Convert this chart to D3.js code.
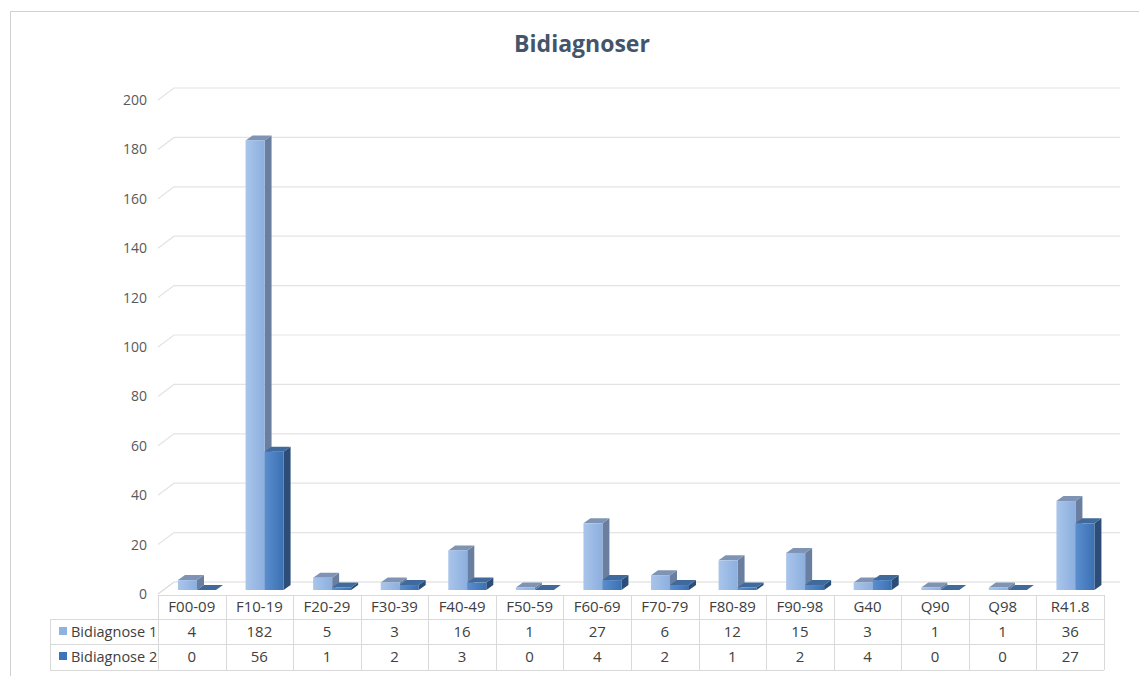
<!DOCTYPE html>
<html lang="en">
<head>
<meta charset="UTF-8"/>
<title>Bidiagnoser</title>
<script src="https://d3js.org/d3.v7.min.js"></script>
<style>
	body { margin: 0; background: #fff; }
	svg { display: block; font-family: "Open Sans", "Noto Sans", sans-serif; }
</style>
</head>
<body>
<div id="chart"></div>
<script>
var categories = ["F00-09", "F10-19", "F20-29", "F30-39", "F40-49", "F50-59", "F60-69",
	"F70-79", "F80-89", "F90-98", "G40", "Q90", "Q98", "R41.8"];
var seriesNames = ["Bidiagnose 1", "Bidiagnose 2"];
var bidiagnose1 = [4, 182, 5, 3, 16, 1, 27, 6, 12, 15, 3, 1, 1, 36];
var bidiagnose2 = [0, 56, 1, 2, 3, 0, 4, 2, 1, 2, 4, 0, 0, 27];
var yTicks = [0, 20, 40, 60, 80, 100, 120, 140, 160, 180, 200];

var w = 1139, h = 676;
var left = 158, right = 1104;
var depthX = 16, depthY = 12;   // wall depth
var barDX = 7, barDY = 5;       // bar depth

var svg = d3.select("#chart").append("svg")
	.attr("width", w)
	.attr("height", h);

// outer frame
svg.append("path")
	.attr("d", "M10.5," + h + "V11.5H" + w)
	.attr("fill", "none")
	.attr("stroke", "#d0d0d0");

var x = d3.scaleBand()
	.domain(d3.range(categories.length))
	.range([left, right]);

var y = d3.scaleLinear()
	.domain([0, 200])
	.range([594, 100]);

// gradients
var defs = svg.append("defs");
function grad(id, c1, c2) {
	var g = defs.append("linearGradient").attr("id", id)
		.attr("x1", "0%").attr("x2", "100%").attr("y1", "0%").attr("y2", "0%");
	g.append("stop").attr("offset", "0%").attr("stop-color", c1);
	g.append("stop").attr("offset", "100%").attr("stop-color", c2);
}
grad("g1", "#a9c5ea", "#8cafdf");
grad("g2", "#5a8ecf", "#3b70b2");

var faces = [
	{ front: "url(#g1)", top: "#7f94b5", side: "#6a7fa0" },
	{ front: "url(#g2)", top: "#3f6a9b", side: "#2b4d77" }
];

// gridlines (slanted on the left wall, flat on the back wall)
var grid = svg.append("g");
grid.selectAll("path")
	.data(yTicks)
	.enter()
	.append("path")
	.attr("d", function (d) {
		var yf = y(d);
		return "M" + left + "," + yf + "L" + (left + depthX) + "," + (yf - depthY) + "H1120";
	})
	.attr("fill", "none")
	.attr("stroke", function (d) { return d === 0 ? "#d9d9d9" : "#e3e3e3"; })
	.attr("stroke-width", 1.2);

// y labels
svg.append("g").selectAll("text")
	.data(yTicks)
	.enter()
	.append("text")
	.attr("x", 147)
	.attr("y", function (d) { return y(d) + 5; })
	.attr("text-anchor", "end")
	.attr("font-size", "14px")
	.attr("fill", "#595959")
	.text(function (d) { return d; });

// bars
var inner = d3.scaleBand()
	.domain([0, 1])
	.range([20, 58]);

var bars = [];
categories.forEach(function (c, i) {
	bars.push({ i: i, s: 0, v: bidiagnose1[i] });
	bars.push({ i: i, s: 1, v: bidiagnose2[i] });
});

var barG = svg.append("g").selectAll("g")
	.data(bars)
	.enter()
	.append("g");

barG.each(function (d) {
	var g = d3.select(this);
	var x0 = x(d.i) + inner(d.s);
	var x1 = x0 + inner.bandwidth();
	var yb = y(0) - 4;
	var yt = y(d.v) - 4;
	var f = faces[d.s];
	// side
	g.append("path")
		.attr("d", "M" + x1 + "," + yb + "L" + (x1 + barDX) + "," + (yb - barDY) +
			"L" + (x1 + barDX) + "," + (yt - barDY) + "L" + x1 + "," + yt + "Z")
		.attr("fill", f.side);
	// top
	g.append("path")
		.attr("d", "M" + x0 + "," + yt + "L" + (x0 + barDX) + "," + (yt - barDY) +
			"L" + (x1 + barDX) + "," + (yt - barDY) + "L" + x1 + "," + yt + "Z")
		.attr("fill", f.top);
	// front
	g.append("rect")
		.attr("x", x0)
		.attr("y", yt)
		.attr("width", inner.bandwidth())
		.attr("height", yb - yt)
		.attr("fill", f.front);
});

// data table
var tbl = svg.append("g");
var rowY = [595, 619, 644, 670];
var lineColor = "#d9d9d9";

// horizontal lines
tbl.append("line").attr("x1", left).attr("x2", right).attr("y1", rowY[0] + 0.5).attr("y2", rowY[0] + 0.5)
	.attr("stroke", lineColor);
[1, 2, 3].forEach(function (k) {
	tbl.append("line").attr("x1", 50).attr("x2", right)
		.attr("y1", rowY[k] + 0.5).attr("y2", rowY[k] + 0.5)
		.attr("stroke", lineColor);
});
// vertical lines
d3.range(categories.length + 1).forEach(function (k) {
	var xx = k < categories.length ? x(k) : right;
	tbl.append("line").attr("x1", Math.round(xx) + 0.5).attr("x2", Math.round(xx) + 0.5)
		.attr("y1", rowY[0]).attr("y2", rowY[3])
		.attr("stroke", lineColor);
});
tbl.append("line").attr("x1", 50.5).attr("x2", 50.5).attr("y1", rowY[1]).attr("y2", rowY[3])
	.attr("stroke", lineColor);

// headers
tbl.selectAll("text.cat")
	.data(categories)
	.enter()
	.append("text")
	.attr("class", "cat")
	.attr("x", function (d, i) { return x(i) + x.bandwidth() / 2; })
	.attr("y", 612)
	.attr("text-anchor", "middle")
	.attr("font-size", "15px")
	.attr("fill", "#404040")
	.text(function (d) { return d; });

[bidiagnose1, bidiagnose2].forEach(function (vals, r) {
	tbl.selectAll("text.v" + r)
		.data(vals)
		.enter()
		.append("text")
		.attr("class", "v" + r)
		.attr("x", function (d, i) { return x(i) + x.bandwidth() / 2; })
		.attr("y", rowY[r + 1] + 18)
		.attr("text-anchor", "middle")
		.attr("font-size", "15px")
		.attr("fill", "#404040")
		.text(function (d) { return d; });
	tbl.append("rect")
		.attr("x", 59)
		.attr("y", rowY[r + 1] + 8)
		.attr("width", 8)
		.attr("height", 8)
		.attr("fill", r === 0 ? "#8fb3e1" : "#3c75b8");
	tbl.append("text")
		.attr("x", 71)
		.attr("y", rowY[r + 1] + 18)
		.attr("font-size", "14.5px")
		.attr("fill", "#404040")
		.text(seriesNames[r]);
});

// title
svg.append("text")
	.attr("x", 582)
	.attr("y", 52)
	.attr("text-anchor", "middle")
	.attr("font-size", "23px")
	.attr("font-weight", "bold")
	.attr("fill", "#44546a")
	.text("Bidiagnoser");
</script>
</body>
</html>
